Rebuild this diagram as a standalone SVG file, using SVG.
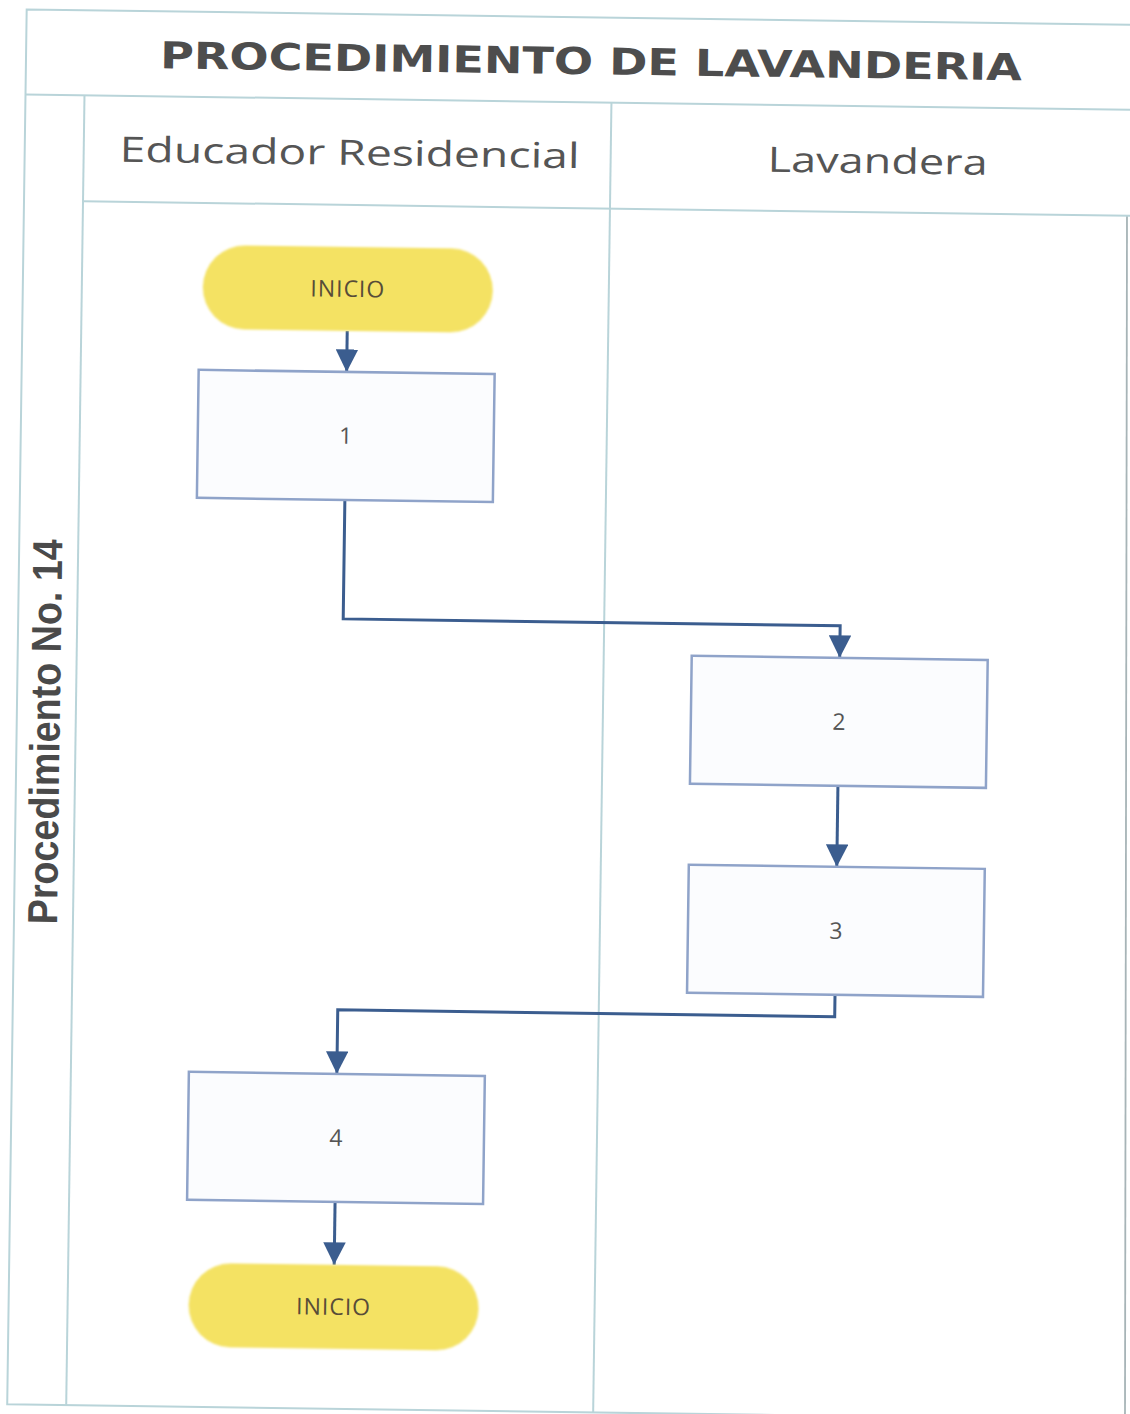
<svg xmlns="http://www.w3.org/2000/svg" width="1130" height="1414" viewBox="0 0 1130 1414">
  <defs>
    <marker id="arrow" viewBox="0 0 10 10" refX="10" refY="5" markerWidth="7.5" markerHeight="7.5" markerUnits="strokeWidth" orient="auto">
      <path d="M0,0 L10,5 L0,10 Z" fill="#3b5d8f"/>
    </marker>
    <filter id="soft" x="-10%" y="-20%" width="120%" height="140%">
      <feGaussianBlur stdDeviation="1.2"/>
    </filter>
  </defs>
  <style>
    .grid { stroke: #b9d4d9; stroke-width: 2; fill: none; }
    .box { fill: #fbfcfe; stroke: #8fa3c9; stroke-width: 2.5; }
    .term { fill: #f4e263; }
    .edge { fill: none; stroke: #3b5d8f; stroke-width: 3; marker-end: url(#arrow); }
    .title { font-family: "DejaVu Sans", Verdana, sans-serif; font-weight: bold; font-size: 37px; fill: #4d4d4d; }
    .lane { font-family: "Open Sans", "DejaVu Sans", sans-serif; font-size: 35px; fill: #555555; }
    .side { font-family: "Liberation Sans", Arial, sans-serif; font-weight: bold; font-size: 42px; fill: #4a4a4a; }
    .label { font-family: "Open Sans", "DejaVu Sans", sans-serif; font-size: 23px; fill: #555555; }
    .tlabel { font-family: "Open Sans", "DejaVu Sans", sans-serif; font-size: 23px; fill: #574c38; letter-spacing: 1px; }
  </style>
  <rect width="1130" height="1414" fill="#ffffff"/>

  <!-- right-hand border of the sheet -->
  <line x1="1127" y1="215" x2="1125" y2="1414" stroke="#a7b4b7" stroke-width="1.8"/>

  <g transform="rotate(0.8 565 707)">
    <!-- swimlane frame -->
    <g id="frame">
      <path class="grid" d="M1130,17 L17,17 L17,1412 L1122,1412"/>
      <line class="grid" x1="17" y1="102" x2="1130" y2="102"/>
      <line class="grid" x1="76" y1="102" x2="76" y2="1412"/>
      <line class="grid" x1="76" y1="208" x2="1130" y2="208"/>
      <line class="grid" x1="603" y1="102" x2="603" y2="1412"/>
    </g>

    <!-- headings -->
    <g id="headings">
      <text class="title" x="582" y="74" text-anchor="middle" textLength="862" lengthAdjust="spacingAndGlyphs">PROCEDIMIENTO DE LAVANDERIA</text>
      <text class="lane" x="342" y="168" text-anchor="middle" textLength="460" lengthAdjust="spacingAndGlyphs">Educador Residencial</text>
      <text class="lane" x="870" y="169" text-anchor="middle" textLength="220" lengthAdjust="spacingAndGlyphs">Lavandera</text>
      <text class="side" transform="translate(60 739) rotate(-90)" text-anchor="middle" textLength="385" lengthAdjust="spacingAndGlyphs">Procedimiento No. 14</text>
    </g>

    <!-- connectors -->
    <g id="connectors">
      <path class="edge" d="M342,334 L342,375"/>
      <path class="edge" d="M342,503 L342,622 L839,622 L839,654"/>
      <path class="edge" d="M839,782 L839,863"/>
      <path class="edge" d="M839,991 L839,1013 L342,1013 L342,1077"/>
      <path class="edge" d="M342,1205 L342,1268"/>
    </g>

    <!-- nodes -->
    <g id="start">
      <rect class="term" x="197" y="250" width="290" height="84" rx="42" filter="url(#soft)"/>
      <text class="tlabel" x="342" y="300" text-anchor="middle">INICIO</text>
    </g>
    <g id="step1">
      <rect class="box" x="194" y="375" width="296" height="128"/>
      <text class="label" x="342" y="447" text-anchor="middle">1</text>
    </g>
    <g id="step2">
      <rect class="box" x="691" y="654" width="296" height="128"/>
      <text class="label" x="839" y="726" text-anchor="middle">2</text>
    </g>
    <g id="step3">
      <rect class="box" x="691" y="863" width="296" height="128"/>
      <text class="label" x="839" y="935" text-anchor="middle">3</text>
    </g>
    <g id="step4">
      <rect class="box" x="194" y="1077" width="296" height="128"/>
      <text class="label" x="342" y="1149" text-anchor="middle">4</text>
    </g>
    <g id="end">
      <rect class="term" x="197" y="1268" width="290" height="84" rx="42" filter="url(#soft)"/>
      <text class="tlabel" x="342" y="1318" text-anchor="middle">INICIO</text>
    </g>
  </g>
</svg>
